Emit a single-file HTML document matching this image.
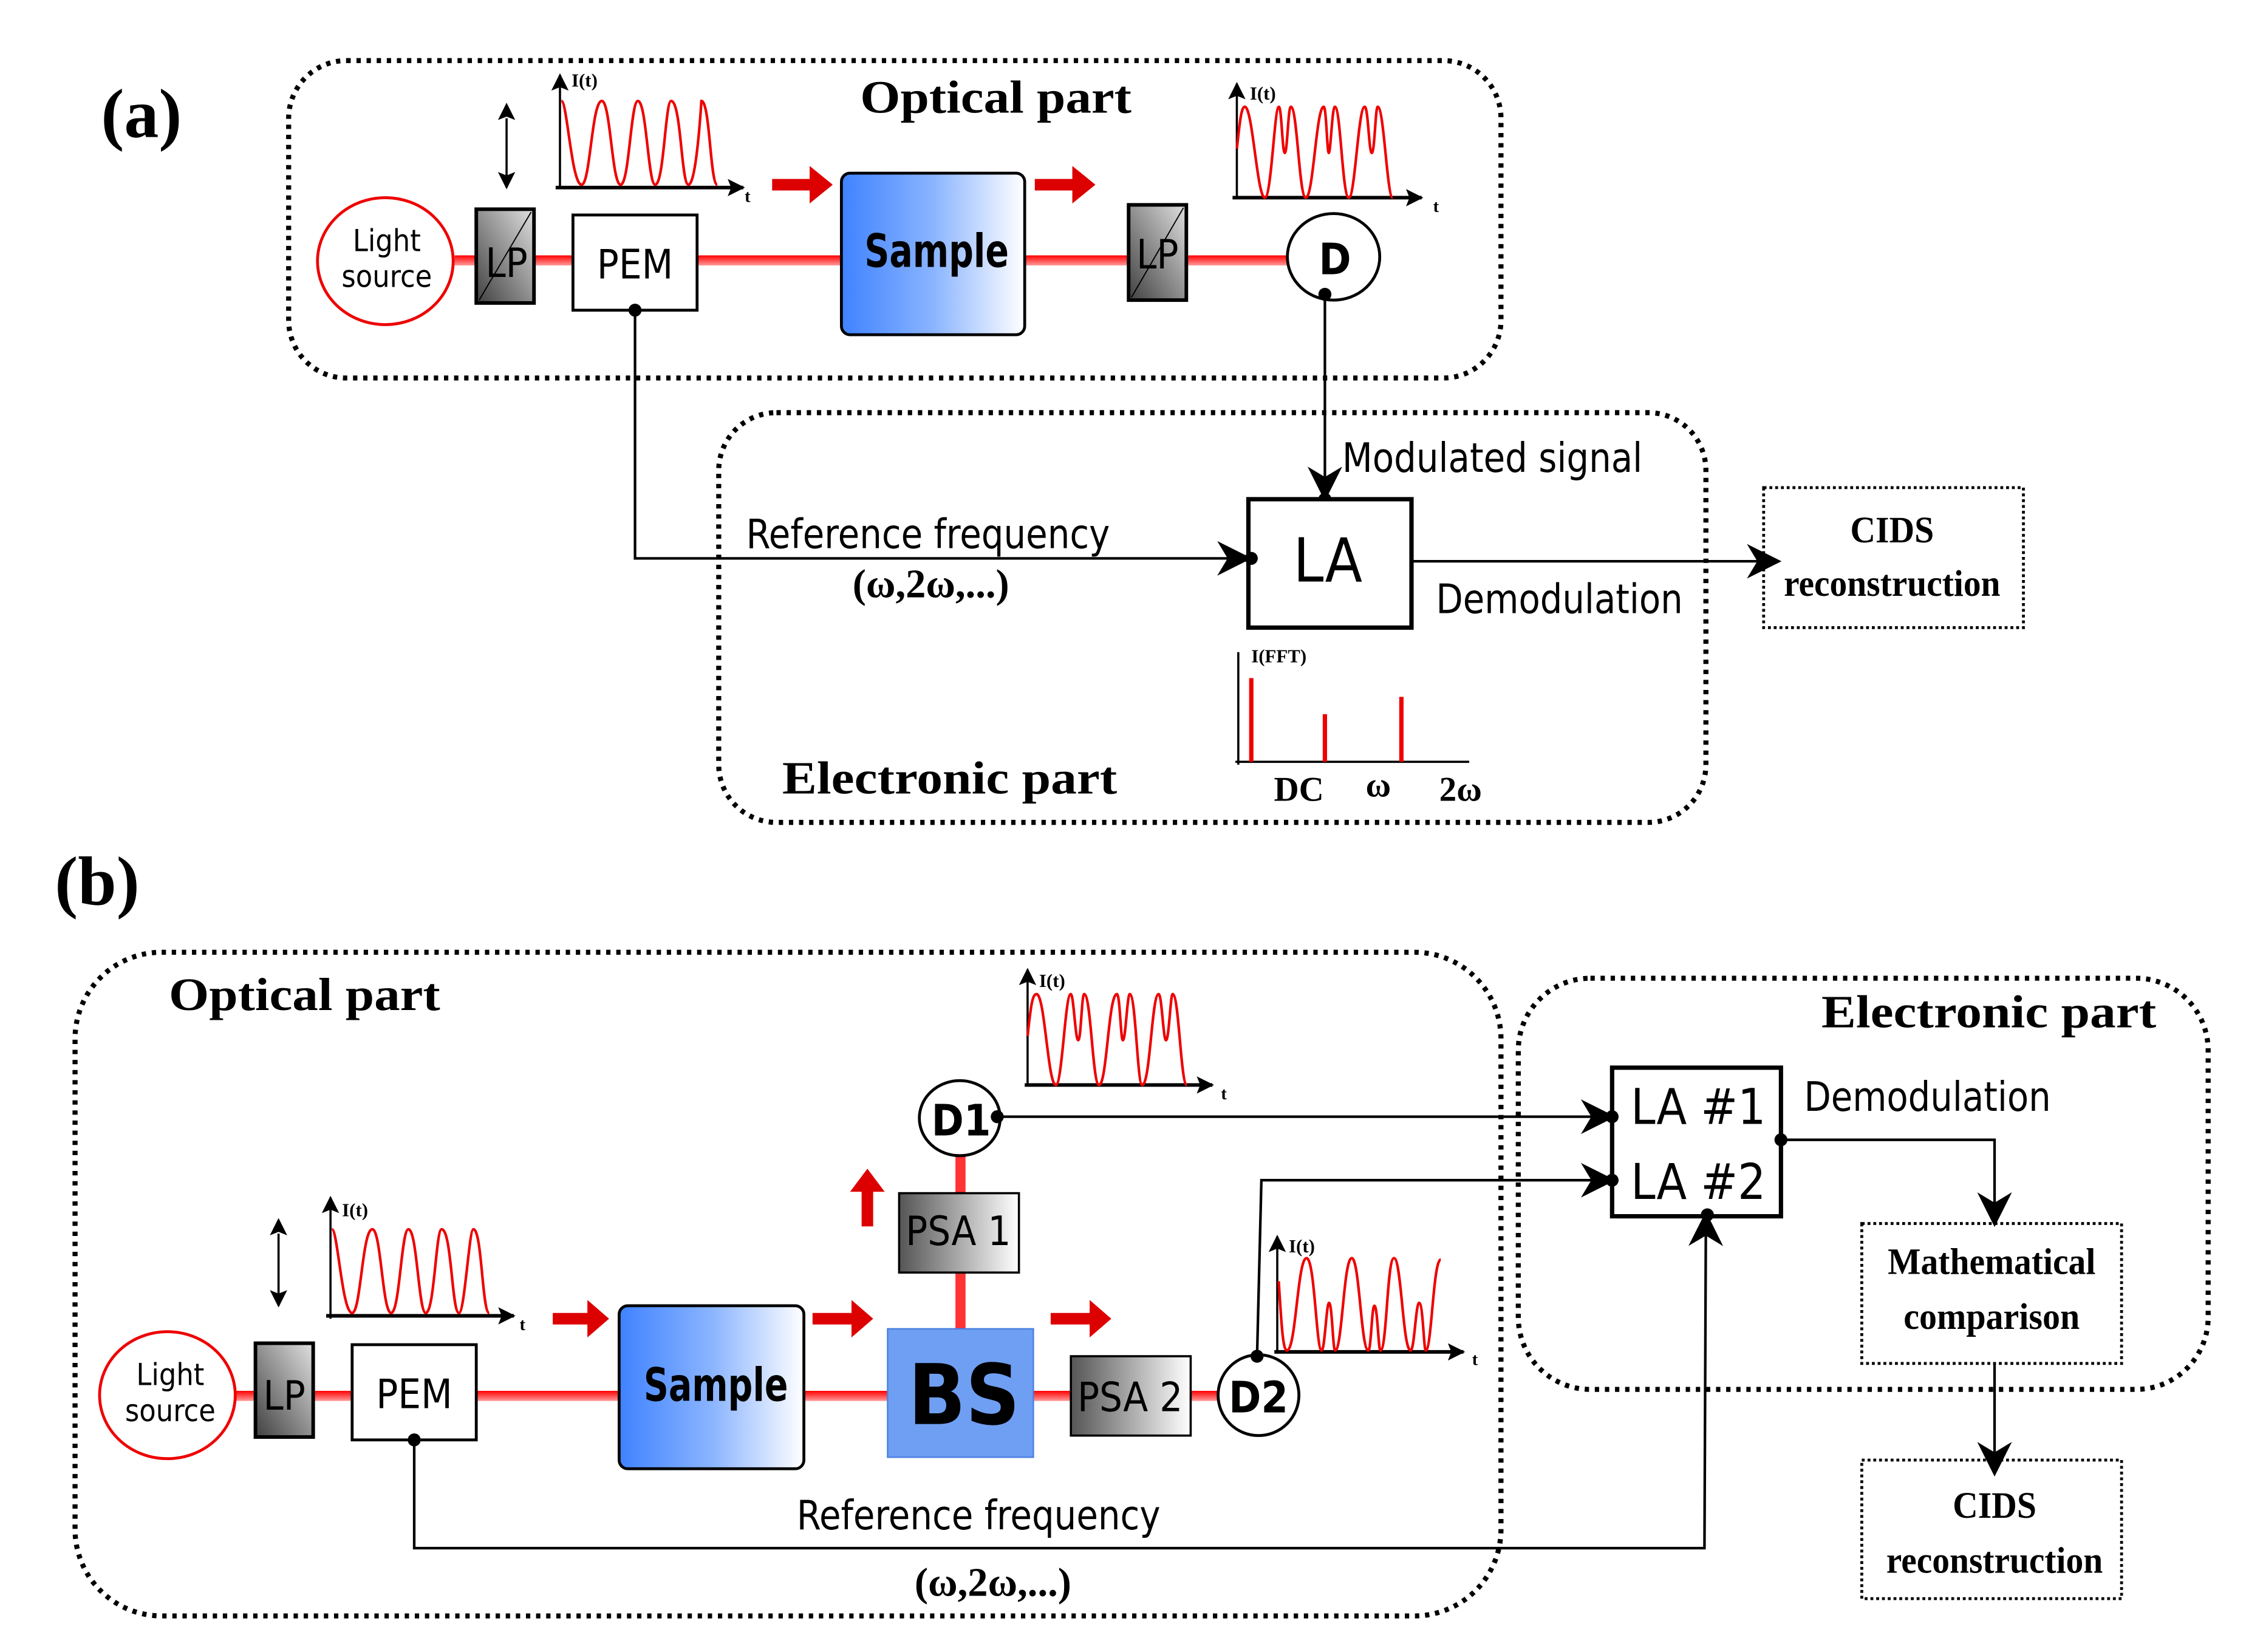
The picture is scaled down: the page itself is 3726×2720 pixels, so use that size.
<!DOCTYPE html>
<html><head><meta charset="utf-8"><style>
html,body{margin:0;padding:0;background:#fff;}
svg{display:block;}
.s{font-family:"DejaVu Sans Condensed","DejaVu Sans","Liberation Sans",sans-serif;font-stretch:condensed;}
.b{font-family:"Liberation Serif",serif;font-weight:bold;}
</style></head><body>
<svg width="3726" height="2720" viewBox="0 0 1568 1145" preserveAspectRatio="none" xmlns="http://www.w3.org/2000/svg">
<defs>
<linearGradient id="blue" x1="0" x2="1" y1="0" y2="0"><stop offset="0" stop-color="#3f82ff"/><stop offset="0.5" stop-color="#8ab4ff"/><stop offset="1" stop-color="#ffffff"/></linearGradient>
<linearGradient id="gray" x1="1" y1="0" x2="0" y2="1"><stop offset="0" stop-color="#e0e0e0"/><stop offset="1" stop-color="#404040"/></linearGradient>
<linearGradient id="psa" x1="0" x2="1" y1="0" y2="0"><stop offset="0" stop-color="#555"/><stop offset="1" stop-color="#fff"/></linearGradient>
<linearGradient id="beam" x1="0" x2="0" y1="0" y2="1"><stop offset="0" stop-color="#ff0000"/><stop offset="1" stop-color="#ff9a9a"/></linearGradient>
<marker id="arB" viewBox="0 0 10 10" refX="9" refY="5" markerWidth="24" markerHeight="24" markerUnits="userSpaceOnUse" orient="auto"><path d="M0,0 L10,5 L0,10 L3,5z" fill="#000"/></marker>
<marker id="arS" viewBox="0 0 10 10" refX="9" refY="5" markerWidth="12" markerHeight="12" markerUnits="userSpaceOnUse" orient="auto"><path d="M0,0 L10,5 L0,10 L2,5z" fill="#000"/></marker>
<marker id="arS2" viewBox="0 0 10 10" refX="1" refY="5" markerWidth="12" markerHeight="12" markerUnits="userSpaceOnUse" orient="auto-start-reverse"><path d="M0,0 L10,5 L0,10 L2,5z" fill="#000"/></marker>
</defs>

<!-- ===== (a) ===== -->
<text x="70" y="95" class="b" font-size="48">(a)</text>
<rect x="200" y="42" width="840" height="220" rx="40" fill="none" stroke="#000" stroke-width="3.5" stroke-dasharray="3,4"/>
<text x="690" y="78" class="b" font-size="32" text-anchor="middle" textLength="188" lengthAdjust="spacingAndGlyphs">Optical part</text>

<rect x="315" y="177" width="585" height="7" fill="url(#beam)"/>
<ellipse cx="267" cy="181" rx="47" ry="44" fill="#fff" stroke="#e00" stroke-width="2"/>
<text x="268" y="174" class="s" font-size="21" text-anchor="middle">Light</text>
<text x="268" y="199" class="s" font-size="21" text-anchor="middle">source</text>
<rect x="330" y="145" width="40" height="65" fill="url(#gray)" stroke="#000" stroke-width="2.5"/>
<line x1="332" y1="208" x2="368" y2="147" stroke="#000" stroke-width="0.8"/>
<text x="351" y="192" class="s" font-size="28" text-anchor="middle">LP</text>
<rect x="397" y="149" width="86" height="66" fill="#fff" stroke="#000" stroke-width="2"/>
<text x="440" y="193" class="s" font-size="28" text-anchor="middle">PEM</text>
<line x1="351" y1="82" x2="351" y2="130" stroke="#000" stroke-width="1.5" marker-end="url(#arS)" marker-start="url(#arS2)"/>
<!-- graph 1 -->
<line x1="388" y1="130" x2="388" y2="52" stroke="#000" stroke-width="1.5" marker-end="url(#arS)"/>
<line x1="385" y1="130" x2="515" y2="130" stroke="#000" stroke-width="2.5" marker-end="url(#arS)"/>
<text x="396" y="60" class="b" font-size="13">I(t)</text>
<text x="516" y="140" class="b" font-size="12">t</text>
<path d="M389,70 C393,70 396,128 403,128 C409,128 410,70 417,70 C423,70 424,128 430,128 C436,128 437,70 442,70 C448,70 449,128 454,128 C460,128 461,70 465,70 C472,70 472,128 477,128 C481,128 484,100 486,70 C492,70 492,128 497,128" fill="none" stroke="#e00" stroke-width="1.8"/>
<path d="M535,124 h26 v-9 l16,13 l-16,13 v-9 h-26z" fill="#d00"/>
<path d="M717,124 h26 v-9 l16,13 l-16,13 v-9 h-26z" fill="#d00"/>
<rect x="583" y="120" width="127" height="112" rx="6" fill="url(#blue)" stroke="#000" stroke-width="2"/>
<text x="649" y="185" class="s" font-size="32" font-weight="bold" text-anchor="middle" textLength="100" lengthAdjust="spacingAndGlyphs">Sample</text>
<rect x="782" y="142" width="40" height="66" fill="url(#gray)" stroke="#000" stroke-width="2.5"/>
<line x1="784" y1="206" x2="820" y2="144" stroke="#000" stroke-width="0.8"/>
<text x="802" y="186" class="s" font-size="28" text-anchor="middle">LP</text>
<ellipse cx="924" cy="178" rx="32" ry="30" fill="#fff" stroke="#000" stroke-width="2"/>
<text x="925" y="190" class="s" font-size="30" font-weight="bold" text-anchor="middle">D</text>
<!-- graph 2 -->
<line x1="857" y1="138" x2="857" y2="58" stroke="#000" stroke-width="1.5" marker-end="url(#arS)"/>
<line x1="854" y1="137" x2="985" y2="137" stroke="#000" stroke-width="2.5" marker-end="url(#arS)"/>
<text x="866" y="69" class="b" font-size="13">I(t)</text>
<text x="993" y="147" class="b" font-size="12">t</text>
<path d="M857,103 C859,85 860,74 862.5,74 C868,74 871,137 876.4,137 C881,137 883,74 886.1,74 C888,74 888.5,106 890.2,106 C892,106 892.5,74 894.4,74 C899,74 900,137 904.8,137 C910,137 912,74 917.2,74 C919,74 919.5,106 920.7,106 C922,106 923,74 924.9,74 C929,74 930,137 934.6,137 C939,137 941,74 945.6,74 C948,74 948.5,106 950.5,106 C952.5,106 953,74 954.6,74 C959,74 961,137 965,137" fill="none" stroke="#e00" stroke-width="1.8"/>

<!-- electronic (a) -->
<rect x="498" y="286" width="684" height="284" rx="40" fill="none" stroke="#000" stroke-width="3.5" stroke-dasharray="3,4"/>
<line x1="918" y1="204" x2="918" y2="345" stroke="#000" stroke-width="1.8" marker-end="url(#arB)"/>
<circle cx="918" cy="204" r="4.5"/>
<circle cx="918" cy="346" r="4.5"/>
<rect x="865" y="346" width="113" height="89" fill="#fff" stroke="#000" stroke-width="3"/>
<text x="920" y="403" class="s" font-size="42" text-anchor="middle">LA</text>
<polyline points="440,215 440,387 865,387" fill="none" stroke="#000" stroke-width="1.8" marker-end="url(#arB)"/>
<circle cx="440" cy="215" r="4.5"/>
<circle cx="867" cy="387" r="4.5"/>
<text x="517" y="380" class="s" font-size="28" textLength="252" lengthAdjust="spacingAndGlyphs">Reference frequency</text>
<text x="645" y="414" class="b" font-size="28" text-anchor="middle">(ω,2ω,...)</text>
<text x="930" y="327" class="s" font-size="28" textLength="208" lengthAdjust="spacingAndGlyphs">Modulated signal</text>
<line x1="978" y1="389" x2="1232" y2="389" stroke="#000" stroke-width="1.8" marker-end="url(#arB)"/>
<text x="995" y="425" class="s" font-size="28" textLength="171" lengthAdjust="spacingAndGlyphs">Demodulation</text>
<rect x="1222" y="338" width="180" height="97" fill="none" stroke="#000" stroke-width="2" stroke-dasharray="2,2"/>
<text x="1311" y="376" class="b" font-size="26" text-anchor="middle" textLength="58" lengthAdjust="spacingAndGlyphs">CIDS</text>
<text x="1311" y="413" class="b" font-size="26" text-anchor="middle" textLength="150" lengthAdjust="spacingAndGlyphs">reconstruction</text>
<!-- FFT -->
<line x1="858" y1="530" x2="858" y2="452" stroke="#000" stroke-width="1.5"/>
<line x1="856" y1="528" x2="1018" y2="528" stroke="#000" stroke-width="1.5"/>
<text x="867" y="459" class="b" font-size="13">I(FFT)</text>
<line x1="867" y1="470" x2="867" y2="528" stroke="#e00" stroke-width="3"/>
<line x1="918" y1="495" x2="918" y2="528" stroke="#e00" stroke-width="3"/>
<line x1="971" y1="483" x2="971" y2="528" stroke="#e00" stroke-width="3"/>
<text x="900" y="555" class="b" font-size="24" text-anchor="middle">DC</text>
<text x="955" y="552" class="b" font-size="24" text-anchor="middle">ω</text>
<text x="1012" y="555" class="b" font-size="24" text-anchor="middle">2ω</text>
<text x="542" y="550" class="b" font-size="32" textLength="232" lengthAdjust="spacingAndGlyphs">Electronic part</text>

<!-- ===== (b) ===== -->
<text x="38" y="627" class="b" font-size="48">(b)</text>
<rect x="52" y="660" width="988" height="460" rx="60" fill="none" stroke="#000" stroke-width="3.5" stroke-dasharray="3,4"/>
<text x="117" y="700" class="b" font-size="32" textLength="188" lengthAdjust="spacingAndGlyphs">Optical part</text>
<rect x="160" y="964" width="685" height="7" fill="url(#beam)"/>
<rect x="662" y="795" width="7" height="126" fill="#f33"/>
<ellipse cx="116" cy="967" rx="47" ry="44" fill="#fff" stroke="#e00" stroke-width="2"/>
<text x="118" y="960" class="s" font-size="21" text-anchor="middle">Light</text>
<text x="118" y="985" class="s" font-size="21" text-anchor="middle">source</text>
<rect x="177" y="931" width="40" height="65" fill="url(#gray)" stroke="#000" stroke-width="2.5"/>
<text x="197" y="977" class="s" font-size="28" text-anchor="middle">LP</text>
<rect x="244" y="932" width="86" height="66" fill="#fff" stroke="#000" stroke-width="2"/>
<text x="287" y="976" class="s" font-size="28" text-anchor="middle">PEM</text>
<line x1="193" y1="855" x2="193" y2="905" stroke="#000" stroke-width="1.5" marker-end="url(#arS)" marker-start="url(#arS2)"/>
<!-- graph b1 -->
<line x1="229" y1="914" x2="229" y2="830" stroke="#000" stroke-width="1.5" marker-end="url(#arS)"/>
<line x1="226" y1="912" x2="356" y2="912" stroke="#000" stroke-width="2.5" marker-end="url(#arS)"/>
<text x="237" y="843" class="b" font-size="13">I(t)</text>
<text x="360" y="922" class="b" font-size="12">t</text>
<path d="M230,852 C234,852 237,910 244,910 C250,910 251,852 258,852 C264,852 265,910 271,910 C277,910 278,852 283,852 C289,852 290,910 295,910 C301,910 302,852 306,852 C313,852 313,910 318,910 C322,910 325,852 328,852 C334,852 334,910 339,910" fill="none" stroke="#e00" stroke-width="1.8"/>
<path d="M383,910 h24 v-9 l15,13 l-15,13 v-9 h-24z" fill="#d00"/>
<path d="M563,910 h27 v-9 l15,13 l-15,13 v-9 h-27z" fill="#d00"/>
<path d="M728,910 h27 v-9 l15,13 l-15,13 v-9 h-27z" fill="#d00"/>
<path d="M597,850 v-24 h-8 l12,-16 l12,16 h-8 v24z" fill="#d00"/>
<rect x="429" y="905" width="128" height="113" rx="6" fill="url(#blue)" stroke="#000" stroke-width="2"/>
<text x="496" y="971" class="s" font-size="32" font-weight="bold" text-anchor="middle" textLength="100" lengthAdjust="spacingAndGlyphs">Sample</text>
<rect x="615" y="921" width="101" height="89" fill="#6f9ff2" stroke="#4a7fe0" stroke-width="1"/>
<text x="668" y="987" class="s" font-size="58" font-weight="bold" text-anchor="middle">BS</text>
<rect x="623" y="827" width="83" height="55" fill="url(#psa)" stroke="#000" stroke-width="1.5"/>
<text x="664" y="863" class="s" font-size="28" text-anchor="middle">PSA 1</text>
<rect x="742" y="940" width="83" height="55" fill="url(#psa)" stroke="#000" stroke-width="1.5"/>
<text x="783" y="978" class="s" font-size="28" text-anchor="middle">PSA 2</text>
<ellipse cx="665" cy="775" rx="28" ry="26" fill="#fff" stroke="#000" stroke-width="2"/>
<text x="666" y="787" class="s" font-size="30" font-weight="bold" text-anchor="middle">D1</text>
<ellipse cx="872" cy="967" rx="28" ry="28" fill="#fff" stroke="#000" stroke-width="2"/>
<text x="872" y="979" class="s" font-size="30" font-weight="bold" text-anchor="middle">D2</text>
<!-- graph b2 -->
<line x1="712" y1="753" x2="712" y2="672" stroke="#000" stroke-width="1.5" marker-end="url(#arS)"/>
<line x1="710" y1="752" x2="840" y2="752" stroke="#000" stroke-width="2.5" marker-end="url(#arS)"/>
<text x="720" y="684" class="b" font-size="13">I(t)</text>
<text x="846" y="762" class="b" font-size="12">t</text>
<path d="M712,718 C714,700 715,689 718.2,689 C724,689 726,752 731.6,752 C736,752 738,689 741.9,689 C744,689 745,721 747.1,721 C749,721 749.5,689 751.2,689 C756,689 757,752 761.5,752 C767,752 768,689 773.9,689 C776,689 776.5,721 778,721 C780,721 781,689 782.8,689 C787,689 788,752 791.4,752 C797,752 798,689 802.8,689 C805,689 806,721 807.9,721 C810,721 811,689 812.5,689 C817,689 818,752 822.4,752" fill="none" stroke="#e00" stroke-width="1.8"/>
<!-- graph b3 -->
<line x1="885" y1="938" x2="885" y2="857" stroke="#000" stroke-width="1.5" marker-end="url(#arS)"/>
<line x1="883" y1="937" x2="1014" y2="937" stroke="#000" stroke-width="2.5" marker-end="url(#arS)"/>
<text x="893" y="868" class="b" font-size="13">I(t)</text>
<text x="1020" y="946" class="b" font-size="12">t</text>
<path d="M886,888 C888,920 889,936 891.7,936 C898,936 899,872 905.3,872 C911,872 912,936 915.7,936 C918,936 919,903 920.9,903 C923,903 923.5,936 925.1,936 C930,936 931,872 936.6,872 C942,872 943,936 948.1,936 C950,936 950.5,905 952.3,905 C954.5,905 955,936 956.5,936 C961,936 961,872 965.9,872 C971,872 972,936 977.4,936 C980,936 981,903 983.3,903 C986,903 986.5,936 987.9,936 C992,936 993,873 998.3,873" fill="none" stroke="#e00" stroke-width="1.8"/>

<!-- electronic (b) -->
<rect x="1052" y="678" width="478" height="285" rx="50" fill="none" stroke="#000" stroke-width="3.5" stroke-dasharray="3,4"/>
<text x="1262" y="712" class="b" font-size="32" textLength="232" lengthAdjust="spacingAndGlyphs">Electronic part</text>
<rect x="1117" y="740" width="117" height="103" fill="#fff" stroke="#000" stroke-width="3"/>
<text x="1130" y="779" class="s" font-size="34">LA #1</text>
<text x="1130" y="831" class="s" font-size="34">LA #2</text>
<line x1="691" y1="774" x2="1117" y2="774" stroke="#000" stroke-width="1.8" marker-end="url(#arB)"/>
<circle cx="691" cy="774" r="4.5"/>
<circle cx="1117" cy="774" r="4.5"/>
<polyline points="871,940 874,818 1117,818" fill="none" stroke="#000" stroke-width="1.8" marker-end="url(#arB)"/>
<circle cx="871" cy="940" r="4.5"/>
<circle cx="1117" cy="818" r="4.5"/>
<polyline points="1234,790 1382,790 1382,848" fill="none" stroke="#000" stroke-width="1.8" marker-end="url(#arB)"/>
<circle cx="1234" cy="790" r="4.5"/>
<text x="1250" y="770" class="s" font-size="28" textLength="171" lengthAdjust="spacingAndGlyphs">Demodulation</text>
<rect x="1290" y="848" width="180" height="97" fill="none" stroke="#000" stroke-width="2" stroke-dasharray="2,2"/>
<text x="1380" y="883" class="b" font-size="26" text-anchor="middle" textLength="144" lengthAdjust="spacingAndGlyphs">Mathematical</text>
<text x="1380" y="921" class="b" font-size="26" text-anchor="middle" textLength="122" lengthAdjust="spacingAndGlyphs">comparison</text>
<line x1="1382" y1="945" x2="1382" y2="1021" stroke="#000" stroke-width="1.8" marker-end="url(#arB)"/>
<rect x="1290" y="1012" width="180" height="96" fill="none" stroke="#000" stroke-width="2" stroke-dasharray="2,2"/>
<text x="1382" y="1052" class="b" font-size="26" text-anchor="middle" textLength="58" lengthAdjust="spacingAndGlyphs">CIDS</text>
<text x="1382" y="1090" class="b" font-size="26" text-anchor="middle" textLength="150" lengthAdjust="spacingAndGlyphs">reconstruction</text>
<polyline points="287,998 287,1073 1181,1073 1182,842" fill="none" stroke="#000" stroke-width="1.8" marker-end="url(#arB)"/>
<circle cx="287" cy="998" r="4.5"/>
<circle cx="1183" cy="842" r="4.5"/>
<text x="678" y="1060" class="s" font-size="28" text-anchor="middle" textLength="252" lengthAdjust="spacingAndGlyphs">Reference frequency</text>
<text x="688" y="1106" class="b" font-size="28" text-anchor="middle">(ω,2ω,...)</text>
</svg>
</body></html>
